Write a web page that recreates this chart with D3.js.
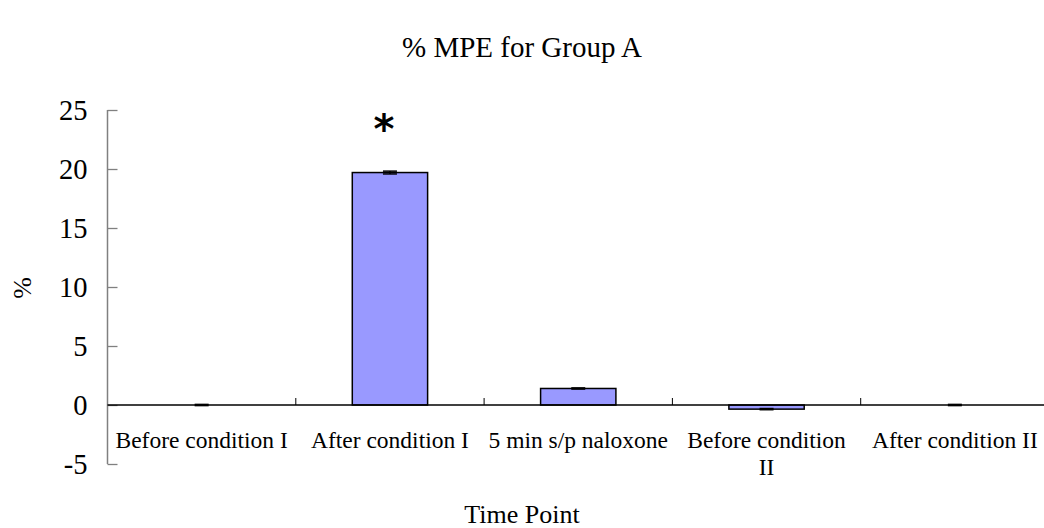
<!DOCTYPE html>
<html><head><meta charset="utf-8">
<script src="https://cdn.jsdelivr.net/npm/d3@7"></script>
<style>body{margin:0;background:#fff}svg{display:block}text{font-family:"Liberation Serif","Times New Roman",serif;fill:#000}</style>
</head><body>
<svg id="c" width="1044" height="528"></svg>
<script>
const categories = ["Before condition I","After condition I","5 min s/p naloxone","Before condition II","After condition II"];
const labelLines = [["Before condition I"],["After condition I"],["5 min s/p naloxone"],["Before condition","II"],["After condition II"]];
const values = [0, 19.7, 1.4, -0.35, 0];
const errors = [0.05, 0.12, 0.05, 0.05, 0.05];
const yTicks = [-5,0,5,10,15,20,25];
const significant = [false,true,false,false,false];

const svg = d3.select("#c");
const x0 = 107.5, x1 = 1049;
const y = d3.scaleLinear().domain([-5,25]).range([464,110]);
const x = d3.scaleBand().domain(categories).range([x0,x1]).paddingInner(0).paddingOuter(0);
const bw = x.bandwidth()*0.4;

// title
svg.append("text").attr("x",522).attr("y",57).attr("text-anchor","middle").style("font-size","29px").text("% MPE for Group A");

// y axis
const ya = svg.append("g");
ya.append("line").attr("x1",x0).attr("x2",x0).attr("y1",y(25)).attr("y2",y(-5)).attr("stroke","#808080").attr("stroke-width",1.5);
yTicks.forEach(t=>{
  ya.append("line").attr("x1",x0).attr("x2",x0+10).attr("y1",Math.round(y(t))+0.5).attr("y2",Math.round(y(t))+0.5).attr("stroke","#808080").attr("stroke-width",1.3);
  ya.append("text").attr("x",x0-20).attr("y",y(t)+10).attr("text-anchor","end").style("font-size","28.5px").text(t);
});

// bars
svg.selectAll("rect.bar").data(values).enter().append("rect")
  .attr("x",(d,i)=>x(categories[i])+x.bandwidth()/2-bw/2)
  .attr("width",bw)
  .attr("y",d=>y(Math.max(0,d)))
  .attr("height",d=>Math.abs(y(d)-y(0)))
  .attr("fill","#9999FF").attr("stroke","#000").attr("stroke-width",1.5);

// error bars
values.forEach((v,i)=>{
  const cx = x(categories[i])+x.bandwidth()/2;
  const g = svg.append("g").attr("stroke","#000").attr("stroke-width",1.5);
  g.append("line").attr("x1",cx).attr("x2",cx).attr("y1",y(v+errors[i])).attr("y2",y(v-errors[i]));
  [v+errors[i], v-errors[i]].forEach(e=>g.append("line").attr("x1",cx-7).attr("x2",cx+7).attr("y1",y(e)).attr("y2",y(e)));
  if(significant[i]) svg.append("text").attr("x",cx-6).attr("y",y(v)-30).attr("text-anchor","middle").style("font-size","40px").style("font-family","DejaVu Sans").style("font-weight","bold").text("*");
});

// zero line
svg.append("line").attr("x1",x0).attr("x2",x1).attr("y1",y(0)).attr("y2",y(0)).attr("stroke","#000").attr("stroke-width",1.5);
// category ticks
categories.slice(1).forEach(c=>{
  svg.append("line").attr("x1",x(c)).attr("x2",x(c)).attr("y1",y(0)).attr("y2",y(0)-7).attr("stroke","#000").attr("stroke-width",1);
});
// category labels
labelLines.forEach((lines,i)=>{
  const cx = x(categories[i])+x.bandwidth()/2;
  lines.forEach((l,j)=>svg.append("text").attr("x",cx).attr("y",448+j*27).attr("text-anchor","middle").style("font-size","23.5px").text(l));
});

// axis titles
svg.append("text").attr("x",522).attr("y",523).attr("text-anchor","middle").style("font-size","26px").text("Time Point");
svg.append("text").attr("transform","translate(31,288) rotate(-90)").attr("text-anchor","middle").style("font-size","26px").text("%");
</script>
</body></html>
